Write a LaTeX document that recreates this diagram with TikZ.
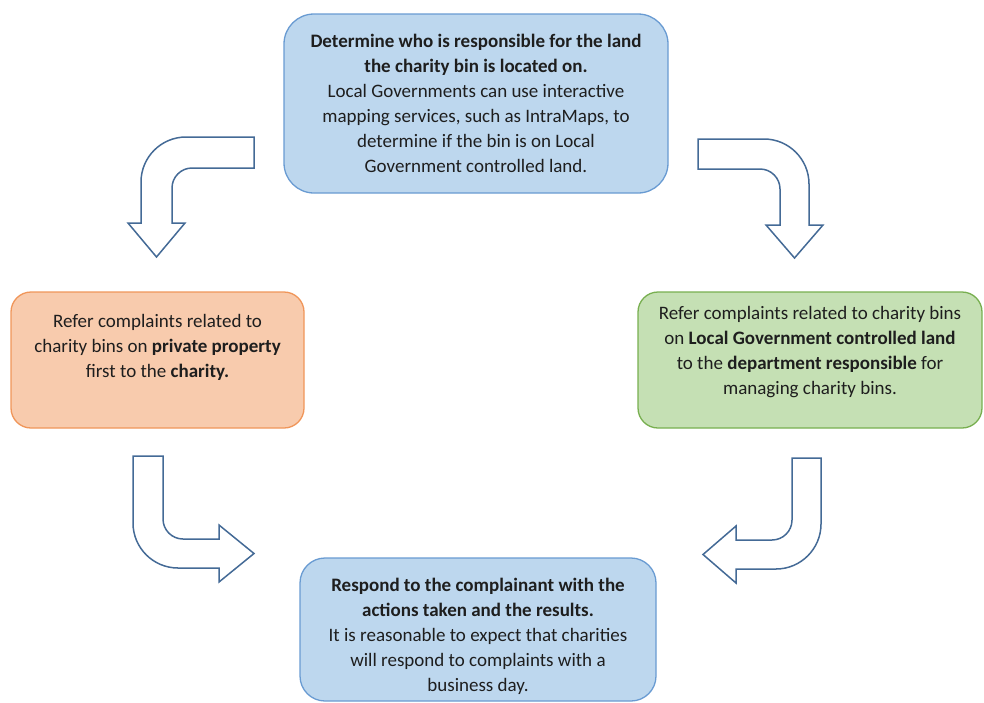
\documentclass[tikz,border=0pt]{standalone}
\usepackage{fontspec}
\setmainfont{Carlito}
\usepackage{xcolor}
\definecolor{bfill}{RGB}{189,215,238}
\definecolor{bedge}{RGB}{105,155,210}
\definecolor{ofill}{RGB}{248,203,173}
\definecolor{oedge}{RGB}{240,150,90}
\definecolor{gfill}{RGB}{197,224,180}
\definecolor{gedge}{RGB}{120,175,80}
\definecolor{aedge}{RGB}{68,106,150}
\definecolor{txt}{RGB}{30,30,30}

\begin{document}
\begin{tikzpicture}[x=1pt,y=-1pt,
  box/.style={draw, line width=1.3pt, align=center, inner sep=0pt, text=txt,
    font=\fontsize{19}{25}\selectfont},
  bent/.style={draw=aedge, fill=white, line width=1.5pt, line join=miter}]
\useasboundingbox (0,0) rectangle (984,702);

% boxes
\node[box, fill=bfill, draw=bedge, rounded corners=30pt,
  minimum width=384pt, minimum height=179pt] (land) at (476,103.5)
  {\textbf{Determine who is responsible for the land}\\
   \textbf{the charity bin is located on.}\\
   Local Governments can use interactive\\
   mapping services, such as IntraMaps, to\\
   determine if the bin is on Local\\
   Government controlled land.};
\node[box, fill=ofill, draw=oedge, rounded corners=20pt,
  minimum width=293pt, minimum height=136pt] (private) at (157.5,360)
  {Refer complaints related to\\
   charity bins on \textbf{private property}\\
   first to the \textbf{charity.}\\[3pt]\mbox{}};
\node[box, fill=gfill, draw=gedge, rounded corners=20pt,
  minimum width=344pt, minimum height=136pt] (council) at (810,360)
  {Refer complaints related to charity bins\\
   on \textbf{Local Government controlled land}\\
   to the \textbf{department responsible} for\\
   managing charity bins.\\[-5pt]\mbox{}};
\node[box, fill=bfill, draw=bedge, rounded corners=25pt,
  minimum width=356pt, minimum height=143pt] (respond) at (478,629.5)
  {\rule{0pt}{27pt}\textbf{Respond to the complainant with the}\\
   \textbf{actions taken and the results.}\\
   It is reasonable to expect that charities\\
   will respond to complaints with a\\
   business day.};

% bent arrows
\draw[bent] (254,137) -- (186,137) .. controls (161.2,137) and (141,157.2) .. (141,182)
  -- (141,223) -- (128,223) -- (156.5,257) -- (185,223) -- (172,223) -- (172,188)
  .. controls (172,177) and (181,168) .. (192,168) -- (254,168) -- cycle;
\draw[bent] (698,139) -- (764,139) .. controls (788.8,139) and (809,159.2) .. (809,184)
  -- (809,225) -- (823,225) -- (794.5,258) -- (766,225) -- (780,225) -- (780,189)
  .. controls (780,178) and (771,169) .. (760,169) -- (698,169) -- cycle;
\draw[bent] (133,456) -- (133,523) .. controls (133,547.8) and (153.2,568) .. (178,568)
  -- (219,568) -- (219,582) -- (254,553.5) -- (219,525) -- (219,539) -- (183,539)
  .. controls (172,539) and (163,530) .. (163,519) -- (163,456) -- cycle;
\draw[bent] (792,458) -- (792,520) .. controls (792,531) and (783,540) .. (772,540)
  -- (736,540) -- (736,526) -- (703,554.5) -- (736,583) -- (736,569) -- (776,569)
  .. controls (800.8,569) and (821,548.8) .. (821,524) -- (821,458) -- cycle;

\end{tikzpicture}
\end{document}
